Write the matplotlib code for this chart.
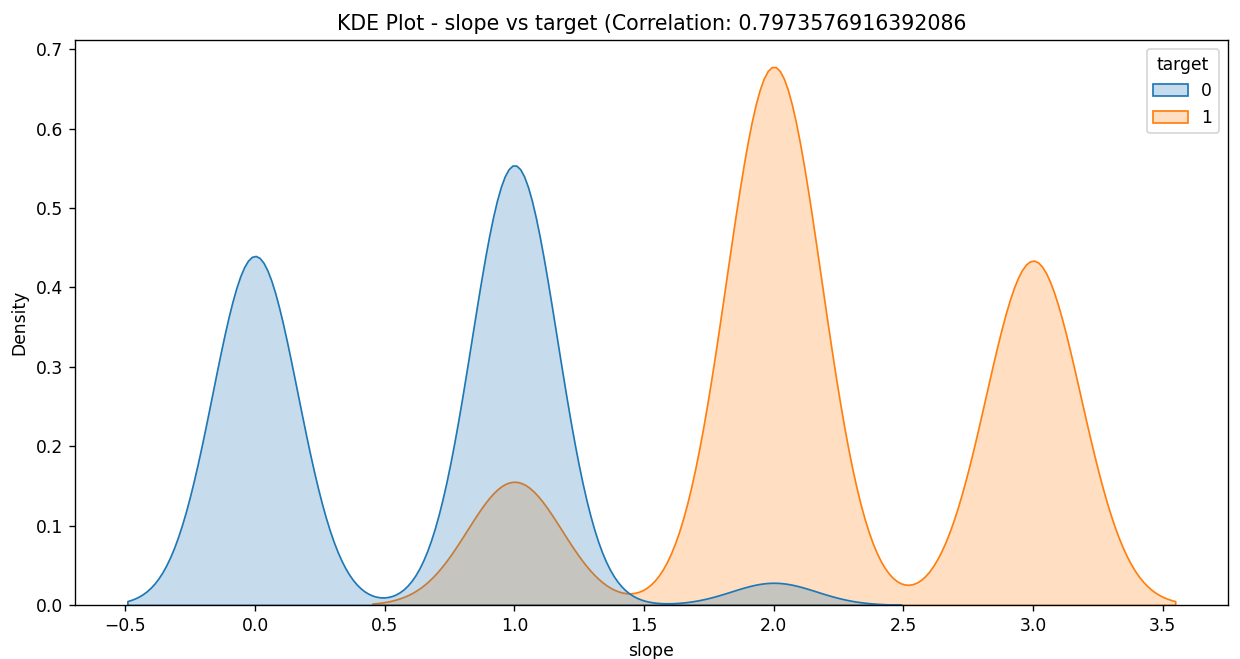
import matplotlib
matplotlib.use("Agg")
import matplotlib.pyplot as plt
import numpy as np
import pandas as pd
import seaborn as sns

# counts of each slope value per target class
slope_values = [0, 1, 2, 3]
counts_target0 = [173, 218, 11, 0]
counts_target1 = [0, 68, 297, 190]
correlation = "0.7973576916392086"

slope = np.concatenate([np.repeat(slope_values, counts_target0),
                        np.repeat(slope_values, counts_target1)])
target = np.concatenate([np.zeros(sum(counts_target0), dtype=int),
                         np.ones(sum(counts_target1), dtype=int)])
df = pd.DataFrame({"slope": slope, "target": target})

dpi = 123
fig = plt.figure(figsize=(1240 / dpi, 659 / dpi), dpi=dpi)
ax = fig.add_axes([0.0605, 0.082, 0.9295, 0.857])
sns.kdeplot(data=df, x="slope", hue="target", fill=True, ax=ax)
ax.set_title("KDE Plot - slope vs target (Correlation: " + correlation)

fig.savefig("out.png", dpi=dpi)
